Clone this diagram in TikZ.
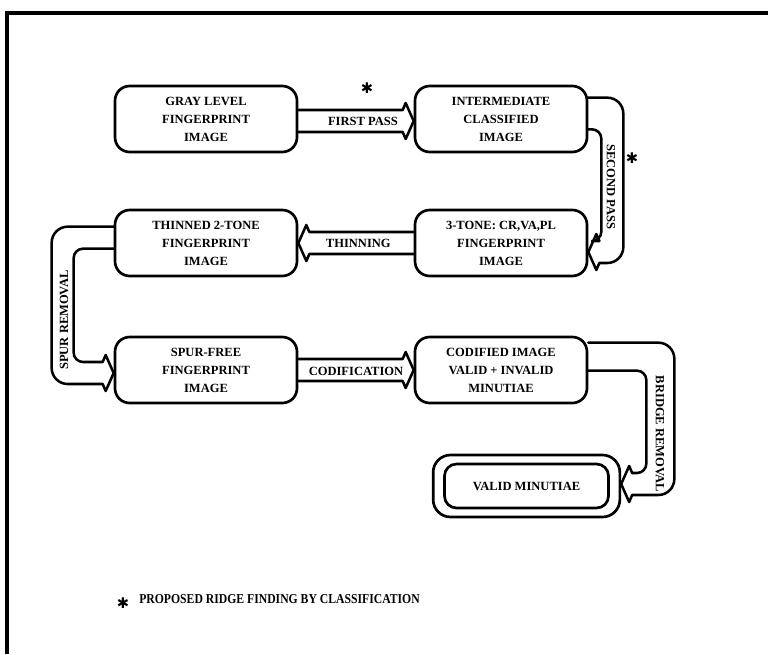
\documentclass[tikz,border=0pt]{standalone}
\usepackage{fontspec}
\setmainfont{Liberation Serif}
\newfontfamily\symfont{DejaVu Sans}
\usetikzlibrary{calc}

\tikzset{
  stage/.style={draw, line width=2pt, rounded corners=11pt, minimum width=136.5pt,
    minimum height=49.5pt, align=center, inner sep=0pt,
    font=\fontsize{9.4}{13.5}\selectfont\bfseries},
  conn/.style={line width=1.9pt, line join=round, line cap=round},
  lbl/.style={inner sep=0pt, font=\fontsize{9.4}{12}\selectfont\bfseries},
  star/.style={inner sep=0pt, font=\fontsize{11}{12}\selectfont\symfont},
}

\begin{document}
\begin{tikzpicture}[x=0.75pt, y=-0.75pt]
\useasboundingbox (0,0) rectangle (768,654);

% frame
\draw[line width=2.3pt] (7,654) -- (7,13) -- (768,13);

% stages
\node[stage] (b1) at (206,119) {GRAY LEVEL\\FINGERPRINT\\IMAGE};
\node[stage, minimum width=129pt] (b2) at (501,119) {INTERMEDIATE\\CLASSIFIED\\IMAGE};
\node[stage] (b3) at (206,243) {THINNED 2-TONE\\FINGERPRINT\\IMAGE};
\node[stage, minimum width=129pt] (b4) at (501,243) {3-TONE: CR,VA,PL\\FINGERPRINT\\IMAGE};
\node[stage] (b5) at (206,370) {SPUR-FREE\\FINGERPRINT\\IMAGE};
\node[stage, minimum width=129pt] (b6) at (501,370) {CODIFIED IMAGE\\VALID + INVALID\\MINUTIAE};
\node[draw, line width=2pt, rounded corners=13pt, minimum width=140pt,
  minimum height=46.5pt, inner sep=0pt] (v) at (526.5,486) {};
\node[stage, minimum width=123pt, minimum height=33pt, rounded corners=9pt] (vi) at (v) {VALID MINUTIAE};

% first pass
\draw[conn] ($(b1.east)+(0,-9)$) -- ($(b2.west)+(-11,-9)$) -- ($(b2.west)+(-8,-16)$)
  -- ($(b2.west)+(0,2)$) -- ($(b2.west)+(-8,20)$) -- ($(b2.west)+(-11,13)$) -- ($(b1.east)+(0,13)$);
\node[lbl] (fp) at ($(b1.east)!0.56!(b2.west)+(0,2.5)$) {FIRST PASS};
\node[star] (s1) at ($(fp)+(4,-33)$) {✱};

% thinning
\draw[conn] ($(b4.west)+(0,-11)$) -- ($(b3.east)+(11,-11)$) -- ($(b3.east)+(8,-18)$)
  -- (b3.east) -- ($(b3.east)+(8,18)$) -- ($(b3.east)+(11,11)$) -- ($(b4.west)+(0,11)$);
\node[lbl] (th) at ($(b3.east)!0.52!(b4.west)$) {THINNING};

% codification
\draw[conn] ($(b5.east)+(0,-11)$) -- ($(b6.west)+(-11,-11)$) -- ($(b6.west)+(-8,-18)$)
  -- (b6.west) -- ($(b6.west)+(-8,18)$) -- ($(b6.west)+(-11,11)$) -- ($(b5.east)+(0,11)$);
\node[lbl] (cd) at ($(b5.east)!0.5!(b6.west)+(0,1)$) {CODIFICATION};

% second pass
\coordinate (t2) at ($(b4.east)+(0,9)$);
\draw[conn, rounded corners=12pt] ($(b2.north east)+(0,13)$) -- ++(35,0) |- ($(t2)+(11,11)$);
\draw[conn] ($(t2)+(11,11)$) -- ($(t2)+(8,18)$) -- (t2);
\draw[conn, rounded corners=7pt] ($(b2.south east)+(0,-24)$) -- ++(13,0) |- ($(t2)+(11,-11)$);
\draw[conn] ($(t2)+(11,-11)$) -- ($(t2)+(8,-18)$) -- (t2);
\node[lbl, rotate=-90] (sp) at (611,187) {SECOND PASS};
\node[star] (s2) at (632,158) {✱};

% spur removal
\coordinate (t5) at ($(b5.west)+(0,3)$);
\draw[conn, rounded corners=12pt] ($(b3.north west)+(0,18)$) -- ++(-62,0) |- ($(t5)+(-11,11)$);
\draw[conn] ($(t5)+(-11,11)$) -- ($(t5)+(-8,18)$) -- (t5);
\draw[conn, rounded corners=7pt] ($(b3.north west)+(0,40)$) -- ++(-40,0) |- ($(t5)+(-11,-11)$);
\draw[conn] ($(t5)+(-11,-11)$) -- ($(t5)+(-8,-18)$) -- (t5);
\node[lbl, rotate=90] (sr) at (64,320) {SPUR REMOVAL};

% bridge removal
\coordinate (t7) at ($(v.east)+(0,-2)$);
\draw[conn, rounded corners=12pt] ($(b6.north east)+(0,7)$) -- ++(86,0) |- ($(t7)+(11,11)$);
\draw[conn] ($(t7)+(11,11)$) -- ($(t7)+(8,18)$) -- (t7);
\draw[conn, rounded corners=7pt] ($(b6.north east)+(0,35)$) -- ++(58,0) |- ($(t7)+(11,-11)$);
\draw[conn] ($(t7)+(11,-11)$) -- ($(t7)+(8,-18)$) -- (t7);
\node[lbl, rotate=-90] (br) at (660,434) {BRIDGE REMOVAL};

% footnote
\node[star] (s3) at (123,603) {✱};
\node[lbl, anchor=west, font=\fontsize{10.2}{12}\selectfont\bfseries] (fn) at (139,599)
  {\scalebox{0.86}[1]{PROPOSED RIDGE FINDING BY CLASSIFICATION}};
\end{tikzpicture}
\end{document}
